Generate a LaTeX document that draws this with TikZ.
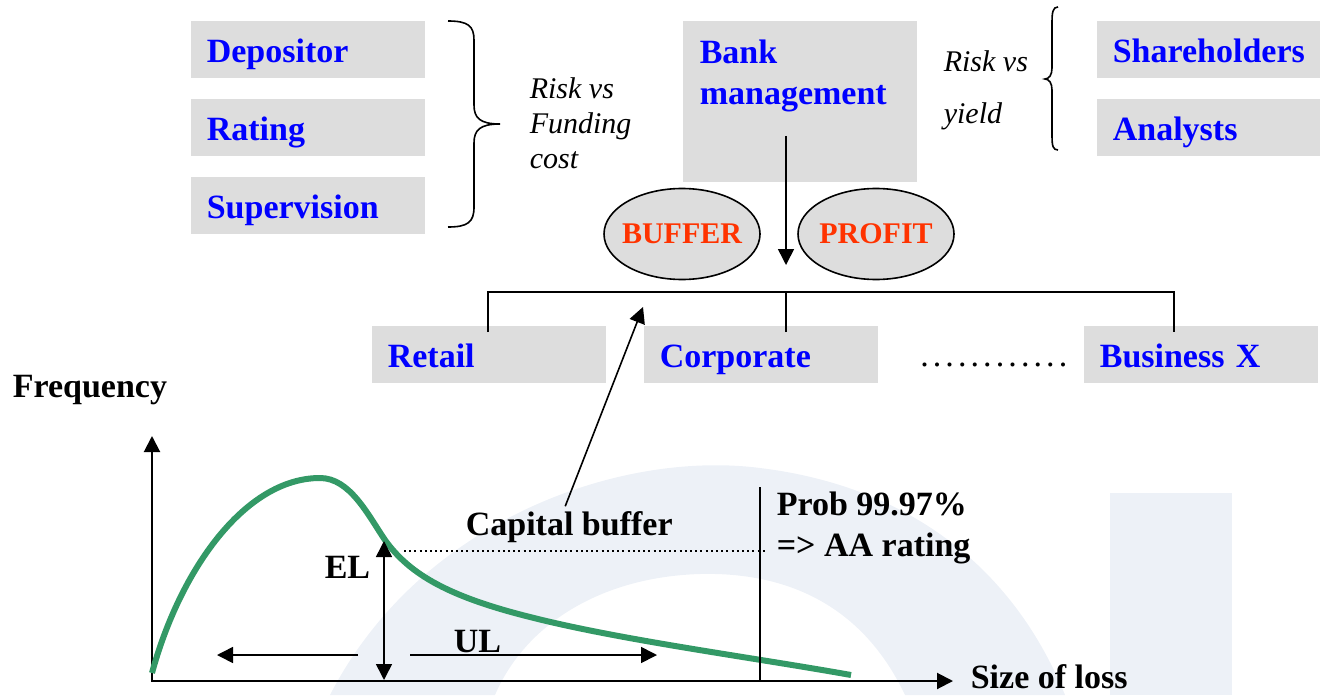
\documentclass[tikz,border=0pt]{standalone}
\usepackage{fontspec}
\setmainfont{Liberation Serif}
\usetikzlibrary{arrows.meta,shapes.geometric}
\definecolor{cbox}{HTML}{DDDDDD}
\definecolor{cname}{HTML}{0000FF}
\definecolor{cpart}{HTML}{FF3300}
\definecolor{cdist}{HTML}{339966}
\definecolor{cmark}{HTML}{EDF1F7}

\begin{document}
\begin{tikzpicture}[x=0.5pt,y=-0.5pt,line width=0.8pt,
  >={Triangle[length=8pt,width=8pt]},
  big/.style={font=\fontsize{17}{20.5}\selectfont\bfseries},
  slanted/.style={font=\fontsize{15}{17.5}\selectfont\itshape,align=left,anchor=north west,inner sep=0pt},
  unit/.style={big,fill=cbox,text=cname,anchor=north west,minimum width=117pt,minimum height=28.5pt,
    inner xsep=8pt,inner ysep=0pt,text width=101pt,align=left,text height=15pt,text depth=2pt},
  part/.style={ellipse,draw,fill=cbox,text=cpart,minimum width=78pt,minimum height=45.5pt,
    inner sep=0pt,font=\fontsize{15}{18}\selectfont\bfseries},
  txt/.style={big,anchor=base west,inner sep=0pt}]
\useasboundingbox (0,0) rectangle (1320,695);
% faint logo behind the chart
\fill[cmark] (330,695) .. controls (420,520) and (620,450) .. (760,468)
  .. controls (900,485) and (1010,560) .. (1065,695) -- (905,695)
  .. controls (860,600) and (780,572) .. (700,574)
  .. controls (600,577) and (525,625) .. (495,695) -- cycle;
\fill[cmark] (1110,493) rectangle (1232,695);
% funding side
\node[unit] (dep) at (190,20) {Depositor};
\node[unit] (rat) at (190,98) {Rating};
\node[unit] (sup) at (190,176) {Supervision};
\draw (448,21) .. controls (468,21) and (474,26) .. (474,40) -- (474,105)
  .. controls (474,118) and (480,124) .. (500,124)
  .. controls (480,124) and (474,130) .. (474,143) -- (474,207)
  .. controls (474,222) and (468,227) .. (448,227);
\node[slanted] (fund) at (529,76.5) {Risk vs\\Funding\\cost};
% management and owners
\node[unit,minimum height=80.5pt] (bank) at (682,20) {};
\node[big,text=cname,align=left,anchor=north west,inner sep=0pt] (banktxt) at (699,39) {Bank\\management};
\node[slanted,font=\fontsize{15}{26}\selectfont\itshape] (yield) at (943,49.5) {Risk vs\\yield};
\draw (1058,7) .. controls (1053,7) and (1052,12) .. (1052,22) -- (1052,68)
  .. controls (1052,75) and (1049,79) .. (1045,79)
  .. controls (1049,79) and (1052,83) .. (1052,90) -- (1052,136)
  .. controls (1052,146) and (1053,150) .. (1058,150);
\node[unit] (share) at (1096,20) {Shareholders};
\node[unit] (anal) at (1096,98) {Analysts};
% buffer / profit
\node[part] (buffer) at (682,234) {\makebox[0pt]{BUFFER}};
\node[part] (profit) at (876,234) {\makebox[0pt]{PROFIT}};
\coordinate (mgmt) at (786,136);
\coordinate (down) at (786,265);
\draw[->] (mgmt) -- (down);
% business lines
\node[unit] (retail) at (371,325) {Retail};
\node[unit] (corp) at (643,325) {Corporate};
\node[unit] (bizx) at (1083,325) {Business X};
\node[font=\fontsize{17}{20}\selectfont,anchor=base west,inner sep=0pt] (more) at (917,366)
  {\hbox to 76pt{\xleaders\hbox to 5.85pt{\hss.\hss}\hfill}};
\coordinate (ftR) at (488,332);
\coordinate (ftC) at (786,332);
\coordinate (ftB) at (1174,332);
\draw (ftR) -- ++(0,-40) -| (ftB);
\draw (ftC) -- ++(0,-40);
% loss distribution
\node[txt] (freq) at (12,397) {Frequency};
\coordinate (ytop) at (152,436);
\coordinate (xend) at (953,681);
\draw[<->,line width=1pt] (ytop) |- (xend);
\node[txt] (loss) at (970,688) {Size of loss};
\draw[cdist,line width=3pt] (152,673) .. controls (180,570) and (245,478) .. (320,478)
  .. controls (350,478) and (368,515) .. (385,540)
  .. controls (410,575) and (450,597) .. (530,617)
  .. controls (620,640) and (750,657) .. (851,675);
\coordinate (elTop) at (384,541);
\coordinate (elBot) at (384,680);
\draw[<->] (elTop) -- (elBot);
\node[txt] (el) at (324,578) {EL};
\coordinate (ulA) at (358,655);
\coordinate (ulL) at (217,655);
\coordinate (ulB) at (410,655);
\coordinate (ulR) at (657,655);
\draw[->] (ulA) -- (ulL);
\draw[->] (ulB) -- (ulR);
\node[txt] (ul) at (453,652) {UL};
\coordinate (cutTop) at (760,487);
\coordinate (cutBot) at (760,681);
\draw (cutTop) -- (cutBot);
\coordinate (dotL) at (404,551);
\coordinate (dotR) at (768,551);
\draw[line width=1pt,dash pattern=on 1pt off 1.6pt] (dotL) -- (dotR);
\node[big,align=left,anchor=north west,inner sep=0pt] (prob) at (776,491) {Prob 99.97\%\\=> AA rating};
\node[txt] (capbuf) at (465,535) {Capital buffer};
\coordinate (bufTip) at (643,307);
\draw[->] ([xshift=-2pt,yshift=2pt]capbuf.north) -- (bufTip);
\end{tikzpicture}
\end{document}
